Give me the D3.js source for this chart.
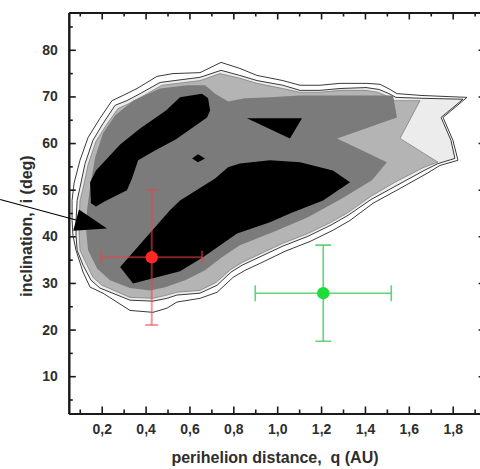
<!DOCTYPE html>
<html>
<head>
<meta charset="utf-8">
<script src="https://cdn.jsdelivr.net/npm/d3@7"></script>
<style>
  html, body { margin: 0; padding: 0; background: #fff; }
  svg { display: block; }
  text { font-family: "Liberation Sans", Arial, sans-serif; }
</style>
</head>
<body>
<svg id="chart" width="480" height="469"></svg>
<script>
// Density of orbits in the (q, i) plane, drawn as nested filled contour levels.

// Axis ticks
const qTicks = [0.2, 0.4, 0.6, 0.8, 1.0, 1.2, 1.4, 1.6, 1.8];
const qMinorTicks = [0.1, 0.3, 0.5, 0.7, 0.9, 1.1, 1.3, 1.5, 1.7, 1.9];
const iTicks = [10, 20, 30, 40, 50, 60, 70, 80];
const iMinorTicks = [5, 15, 25, 35, 45, 55, 65, 75, 85];

// Contour rings, outermost first, as [q (AU), i (deg)]
const contourLevel1 = [[0.083,37.0],[0.069,40.2],[0.065,43.4],[0.065,47.7],[0.074,51.4],[0.101,56.3],[0.138,61.2],[0.192,65.3],[0.247,69.1],[0.297,70.2],[0.361,71.7],[0.452,74.3],[0.525,74.9],[0.648,75.1],[0.744,77.3],[0.830,76.0],[0.908,74.5],[1.026,73.4],[1.104,72.4],[1.195,72.4],[1.286,72.8],[1.409,72.8],[1.469,72.6],[1.514,71.5],[1.546,70.6],[1.660,70.2],[1.865,69.8],[1.756,65.5],[1.801,60.6],[1.824,56.3],[1.742,55.2],[1.683,53.5],[1.546,49.9],[1.437,47.1],[1.332,43.4],[1.254,41.3],[1.150,38.9],[1.036,36.8],[0.922,34.2],[0.853,32.7],[0.799,31.2],[0.726,28.0],[0.648,26.7],[0.543,25.9],[0.498,24.6],[0.434,23.7],[0.329,24.1],[0.206,27.8],[0.147,29.1],[0.115,32.3]];
const contourLevel2 = [[0.088,37.0],[0.083,40.2],[0.083,43.4],[0.088,47.7],[0.101,50.5],[0.124,55.6],[0.160,60.6],[0.206,64.2],[0.261,68.1],[0.315,69.1],[0.375,70.6],[0.466,73.0],[0.648,74.1],[0.744,75.6],[0.830,74.5],[0.908,73.4],[1.026,72.4],[1.104,71.3],[1.195,71.3],[1.286,71.7],[1.405,71.9],[1.464,71.5],[1.510,70.6],[1.541,69.8],[1.660,69.6],[1.847,69.4],[1.747,65.5],[1.792,60.6],[1.810,56.7],[1.733,55.6],[1.669,54.1],[1.537,50.7],[1.428,47.9],[1.323,44.5],[1.245,42.4],[1.140,40.0],[1.026,37.9],[0.908,35.3],[0.840,33.8],[0.789,32.3],[0.726,29.5],[0.648,27.8],[0.543,27.4],[0.498,26.7],[0.434,26.1],[0.329,26.3],[0.192,28.9],[0.151,30.6],[0.115,33.8]];
const contourLevel3 = [[0.101,37.0],[0.097,40.2],[0.097,43.4],[0.101,47.7],[0.115,50.3],[0.138,55.4],[0.174,60.4],[0.220,63.8],[0.274,67.4],[0.325,68.5],[0.384,70.0],[0.475,72.4],[0.648,73.4],[0.739,74.9],[0.830,73.9],[0.908,72.8],[1.026,71.7],[1.104,70.9],[1.195,70.9],[1.286,71.3],[1.405,71.3],[1.459,70.9],[1.505,70.0],[1.537,69.1],[1.651,69.1],[1.560,61.0],[1.733,55.9],[1.669,54.8],[1.537,51.6],[1.428,48.6],[1.323,45.1],[1.245,43.0],[1.140,40.6],[1.026,38.5],[0.908,35.9],[0.840,34.4],[0.789,32.9],[0.721,30.1],[0.648,28.4],[0.543,28.0],[0.498,27.4],[0.434,26.7],[0.329,26.9],[0.201,29.5],[0.160,31.2],[0.129,34.2]];
const contourLevel4 = [[0.138,37.0],[0.129,41.3],[0.133,45.6],[0.147,50.5],[0.170,56.9],[0.206,62.1],[0.261,65.9],[0.343,69.1],[0.466,71.7],[0.589,72.4],[0.671,72.4],[0.717,70.6],[0.776,68.9],[0.853,69.6],[0.967,69.8],[1.104,70.2],[1.286,70.2],[1.528,70.2],[1.546,65.5],[1.273,61.0],[1.500,55.9],[1.432,52.0],[1.295,48.1],[1.140,44.1],[0.990,41.1],[0.830,38.1],[0.748,35.5],[0.671,32.7],[0.580,30.6],[0.489,29.1],[0.420,28.4],[0.329,28.9],[0.238,30.6],[0.179,33.1]];

// Highest-density cores
const coreUpper = [[0.151,47.1],[0.147,51.6],[0.174,54.1],[0.284,59.7],[0.375,63.1],[0.493,67.0],[0.557,69.8],[0.657,70.6],[0.685,69.6],[0.694,67.0],[0.680,65.5],[0.539,60.8],[0.443,58.4],[0.366,56.3],[0.338,52.4],[0.315,49.9],[0.215,47.5],[0.174,46.4]];
const coreSmall = [[0.612,56.7],[0.639,57.6],[0.671,56.7],[0.639,55.9]];
const coreTriangle = [[0.862,65.3],[1.113,65.3],[1.058,61.0]];
const coreLower = [[0.284,33.4],[0.343,29.9],[0.557,32.5],[0.662,35.5],[0.817,40.6],[0.967,43.0],[1.058,44.9],[1.209,47.7],[1.332,51.6],[1.254,54.1],[1.104,55.9],[0.967,56.3],[0.830,55.6],[0.776,54.8],[0.717,52.4],[0.557,47.7],[0.511,45.6],[0.452,42.4]];

// Two objects with their uncertainties
const objQ = [0.428, 1.21];
const objI = [35.5, 27.8];
const objQErr = [0.23, 0.31];
const objIErr = [14.5, 10.3];

// Pointer arrow, from outside the frame into the plot
const arrowFrom = [-0.263, 47.9];
const arrowTo = [0.224, 41.7];

// Styling
const levelFills = ["#ffffff", "#ececec", "#b4b4b4", "#7b7b7b"];
const levelStrokes = ["#3a3a3a", "#3a3a3a", "#6a6a6a", "none"];
const objDotColors = ["#ff2626", "#1fdc38"];
const objBarColors = ["rgba(235,70,70,0.55)", "rgba(70,205,100,0.85)"];
const objCaps = [6.5, 8];

const plot = { left: 68.8, right: 485.6, top: 12.5, bottom: 413.5 };

const svg = d3.select("#chart");
const x = d3.scaleLinear().domain([0.05, 1.95]).range([plot.left, plot.right]);
const y = d3.scaleLinear().domain([2, 88]).range([plot.bottom, plot.top]);

svg.append("defs").append("clipPath").attr("id", "plotClip")
  .append("rect")
  .attr("x", plot.left).attr("y", plot.top)
  .attr("width", plot.right - plot.left).attr("height", plot.bottom - plot.top);

const ring = d3.line().x(d => x(d[0])).y(d => y(d[1])).curve(d3.curveLinearClosed);

const body = svg.append("g").attr("clip-path", "url(#plotClip)");

// Filled contour levels
const levels = [contourLevel1, contourLevel2, contourLevel3, contourLevel4];
body.selectAll("path.level").data(levels).join("path")
  .attr("class", "level")
  .attr("d", ring)
  .attr("fill", (d, k) => levelFills[k])
  .attr("stroke", (d, k) => levelStrokes[k])
  .attr("stroke-width", (d, k) => k < 2 ? 1 : 0.6)
  .attr("stroke-linejoin", "round");

// Core regions
body.selectAll("path.core").data([coreUpper, coreSmall, coreTriangle, coreLower]).join("path")
  .attr("class", "core")
  .attr("d", ring)
  .attr("fill", "#000");

// Error bars and points
const objs = objQ.map((q, k) => ({ q, i: objI[k], dq: objQErr[k], di: objIErr[k], k }));
objs.forEach(o => {
  const cap = objCaps[o.k];
  const g = body.append("g")
    .attr("stroke", objBarColors[o.k])
    .attr("stroke-width", o.k === 0 ? 2 : 1.6)
    .attr("fill", "none");
  const cx = x(o.q), cy = y(o.i);
  const x0 = x(o.q - o.dq), x1 = x(o.q + o.dq);
  const y0 = y(o.i - o.di), y1 = y(o.i + o.di);
  g.append("line").attr("x1", x0).attr("x2", x1).attr("y1", cy).attr("y2", cy);
  g.append("line").attr("x1", cx).attr("x2", cx).attr("y1", y0).attr("y2", y1);
  g.append("line").attr("x1", cx - cap).attr("x2", cx + cap).attr("y1", y0).attr("y2", y0);
  g.append("line").attr("x1", cx - cap).attr("x2", cx + cap).attr("y1", y1).attr("y2", y1);
  g.append("line").attr("x1", x0).attr("x2", x0).attr("y1", cy - cap).attr("y2", cy + cap);
  g.append("line").attr("x1", x1).attr("x2", x1).attr("y1", cy - cap).attr("y2", cy + cap);
  body.append("circle").attr("cx", cx).attr("cy", cy).attr("r", 6.2)
    .attr("fill", objDotColors[o.k]);
});

// Axes, all ticks pointing inward
const fmt = d3.formatLocale({ decimal: ",", thousands: " ", grouping: [3], currency: ["", ""] }).format(".1f");

function styleAxis(g) {
  g.select(".domain").attr("stroke", "#1a1a1a").attr("stroke-width", 2);
  g.selectAll(".tick line").attr("stroke", "#1a1a1a").attr("stroke-width", 1.6);
  g.selectAll(".tick text")
    .attr("fill", "#2e2e2e")
    .style("font-size", "14px")
    .style("font-weight", "bold");
}

svg.append("g").attr("transform", `translate(0,${plot.bottom})`)
  .call(d3.axisBottom(x).tickValues(qMinorTicks).tickSize(-4).tickSizeOuter(0).tickFormat(""))
  .call(styleAxis);
svg.append("g").attr("transform", `translate(0,${plot.bottom})`)
  .call(d3.axisBottom(x).tickValues(qTicks).tickSize(-7).tickSizeOuter(0).tickPadding(11).tickFormat(fmt))
  .call(styleAxis);

svg.append("g").attr("transform", `translate(0,${plot.top})`)
  .call(d3.axisTop(x).tickValues(qMinorTicks).tickSize(-4).tickSizeOuter(0).tickFormat(""))
  .call(styleAxis);
svg.append("g").attr("transform", `translate(0,${plot.top})`)
  .call(d3.axisTop(x).tickValues(qTicks).tickSize(-7).tickSizeOuter(0).tickFormat(""))
  .call(styleAxis);

svg.append("g").attr("transform", `translate(${plot.left},0)`)
  .call(d3.axisLeft(y).tickValues(iMinorTicks).tickSize(-4).tickSizeOuter(0).tickFormat(""))
  .call(styleAxis);
svg.append("g").attr("transform", `translate(${plot.left},0)`)
  .call(d3.axisLeft(y).tickValues(iTicks).tickSize(-7).tickSizeOuter(0).tickPadding(11).tickFormat(d3.format("d")))
  .call(styleAxis);

svg.append("g").attr("transform", `translate(${plot.right},0)`)
  .call(d3.axisRight(y).tickValues(iMinorTicks).tickSize(-4).tickSizeOuter(0).tickFormat(""))
  .call(styleAxis);
svg.append("g").attr("transform", `translate(${plot.right},0)`)
  .call(d3.axisRight(y).tickValues(iTicks).tickSize(-7).tickSizeOuter(0).tickFormat(""))
  .call(styleAxis);

// Axis titles
svg.append("text")
  .attr("x", 275)
  .attr("y", 463)
  .attr("text-anchor", "middle")
  .attr("fill", "#2e2e2e")
  .style("font-size", "16px").style("font-weight", "bold")
  .style("white-space", "pre")
  .text("perihelion distance,  q (AU)");

svg.append("text")
  .attr("transform", "translate(32,226) rotate(-90)")
  .attr("text-anchor", "middle")
  .attr("fill", "#2e2e2e")
  .style("font-size", "16px").style("font-weight", "bold")
  .style("white-space", "pre")
  .text("inclination,  i (deg)");

// Arrow pointing at the low-q region
const ax0 = x(arrowFrom[0]), ay0 = y(arrowFrom[1]);
const ax1 = x(arrowTo[0]), ay1 = y(arrowTo[1]);
const len = Math.hypot(ax1 - ax0, ay1 - ay0);
const ux = (ax1 - ax0) / len, uy = (ay1 - ay0) / len;
const headLen = 32, headHalf = 11;
const bx = ax1 - ux * headLen, by = ay1 - uy * headLen;
svg.append("line")
  .attr("x1", ax0).attr("y1", ay0).attr("x2", bx).attr("y2", by)
  .attr("stroke", "#000").attr("stroke-width", 1.1);
svg.append("path")
  .attr("d", d3.line()([[ax1, ay1], [bx - uy * headHalf, by + ux * headHalf], [bx + uy * headHalf, by - ux * headHalf]]) + "Z")
  .attr("fill", "#000");
</script>
</body>
</html>
